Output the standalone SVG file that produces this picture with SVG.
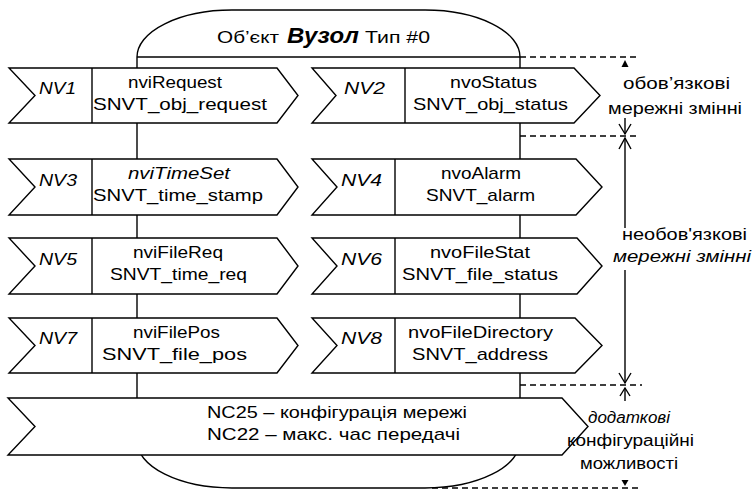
<svg xmlns="http://www.w3.org/2000/svg" width="752" height="490" viewBox="0 0 752 490">
<style>
.s{fill:#fff;stroke:#000;stroke-width:1.4;stroke-linejoin:miter}
.l{fill:none;stroke:#000;stroke-width:1.4}
.d{fill:none;stroke:#000;stroke-width:1.4;stroke-dasharray:6 4}
.f{fill:#000;stroke:none}
text{font-family:"Liberation Sans",Arial,sans-serif;font-size:17px;fill:#000}
.nv{font-style:italic;font-size:16px}
.i{font-style:italic}
.a{font-size:16px}
</style>
<rect width="752" height="490" fill="#fff"/>
<g id="node-object">
<rect class="s" x="137" y="10" width="383" height="478" rx="95" ry="47"/>
<line class="l" x1="137" y1="57" x2="520" y2="57"/>
<text x="217" y="43" font-size="16" textLength="62" lengthAdjust="spacingAndGlyphs">Об’єкт</text>
<text x="287" y="43" style="font-size:22px;font-weight:bold;font-style:italic" textLength="72" lengthAdjust="spacingAndGlyphs">Вузол</text>
<text x="365" y="43" font-size="16" textLength="65" lengthAdjust="spacingAndGlyphs">Тип #0</text>
</g>
<g id="nv1">
<polygon class="s" points="9,68 277,68 298,95.5 277,123 9,123 35,95.5"/>
<line class="l" x1="92" y1="68" x2="92" y2="123"/>
<text class="nv" x="39" y="94" textLength="37" lengthAdjust="spacingAndGlyphs">NV1</text>
<text x="128" y="87.5" textLength="94" lengthAdjust="spacingAndGlyphs">nviRequest</text>
<text x="93" y="110" textLength="174" lengthAdjust="spacingAndGlyphs">SNVT_obj_request</text>
</g>
<g id="nv2">
<polygon class="s" points="312,68 574,68 600,95.5 574,123 312,123 336,95.5"/>
<line class="l" x1="405" y1="68" x2="405" y2="123"/>
<text class="nv" x="344" y="94" textLength="41" lengthAdjust="spacingAndGlyphs">NV2</text>
<text x="450" y="87.5" textLength="87" lengthAdjust="spacingAndGlyphs">nvoStatus</text>
<text x="413" y="110" textLength="155" lengthAdjust="spacingAndGlyphs">SNVT_obj_status</text>
</g>
<g id="nv3">
<polygon class="s" points="9,159 277,159 298,187 277,215 9,215 35,187"/>
<line class="l" x1="92" y1="159" x2="92" y2="215"/>
<text class="nv" x="39" y="186" textLength="38" lengthAdjust="spacingAndGlyphs">NV3</text>
<text class="i" x="128" y="179" textLength="102" lengthAdjust="spacingAndGlyphs">nviTimeSet</text>
<text x="93" y="201" textLength="170" lengthAdjust="spacingAndGlyphs">SNVT_time_stamp</text>
</g>
<g id="nv4">
<polygon class="s" points="312,159 576,159 602,187 576,215 312,215 337,187"/>
<line class="l" x1="395" y1="159" x2="395" y2="215"/>
<text class="nv" x="341" y="186" textLength="41" lengthAdjust="spacingAndGlyphs">NV4</text>
<text x="441" y="179" textLength="80" lengthAdjust="spacingAndGlyphs">nvoAlarm</text>
<text x="426" y="201" textLength="109" lengthAdjust="spacingAndGlyphs">SNVT_alarm</text>
</g>
<g id="nv5">
<polygon class="s" points="9,238 277,238 298,266 277,294 9,294 35,266"/>
<line class="l" x1="92" y1="238" x2="92" y2="294"/>
<text class="nv" x="39" y="265" textLength="38" lengthAdjust="spacingAndGlyphs">NV5</text>
<text x="133" y="258" textLength="90" lengthAdjust="spacingAndGlyphs">nviFileReq</text>
<text x="110" y="280" textLength="137" lengthAdjust="spacingAndGlyphs">SNVT_time_req</text>
</g>
<g id="nv6">
<polygon class="s" points="312,238 577,238 602,266 577,294 312,294 337,266"/>
<line class="l" x1="395" y1="238" x2="395" y2="294"/>
<text class="nv" x="341" y="265" textLength="41" lengthAdjust="spacingAndGlyphs">NV6</text>
<text x="430" y="258" textLength="100" lengthAdjust="spacingAndGlyphs">nvoFileStat</text>
<text x="402" y="280" textLength="156" lengthAdjust="spacingAndGlyphs">SNVT_file_status</text>
</g>
<g id="nv7">
<polygon class="s" points="9,318 277,318 298,345.5 277,373 9,373 35,345.5"/>
<line class="l" x1="92" y1="318" x2="92" y2="373"/>
<text class="nv" x="39" y="344" textLength="38" lengthAdjust="spacingAndGlyphs">NV7</text>
<text x="133" y="337.5" textLength="87" lengthAdjust="spacingAndGlyphs">nviFilePos</text>
<text x="102" y="360" textLength="145" lengthAdjust="spacingAndGlyphs">SNVT_file_pos</text>
</g>
<g id="nv8">
<polygon class="s" points="312,318 575,318 602,345.5 575,373 312,373 337,345.5"/>
<line class="l" x1="395" y1="318" x2="395" y2="373"/>
<text class="nv" x="341" y="344" textLength="41" lengthAdjust="spacingAndGlyphs">NV8</text>
<text x="408" y="337.5" textLength="145" lengthAdjust="spacingAndGlyphs">nvoFileDirectory</text>
<text x="412" y="360" textLength="136" lengthAdjust="spacingAndGlyphs">SNVT_address</text>
</g>
<g id="nc">
<polygon class="s" points="8,398 562,398 588,426.5 562,455 8,455 35,426.5"/>
<text x="207" y="418" textLength="260" lengthAdjust="spacingAndGlyphs">NC25 – конфігурація мережі</text>
<text x="207" y="440" textLength="253" lengthAdjust="spacingAndGlyphs">NC22 – макс. час передачі</text>
</g>
<g id="connectors">
<line class="d" x1="520" y1="57" x2="640" y2="57"/>
<line class="d" x1="520" y1="136" x2="640" y2="136"/>
<line class="d" x1="520" y1="385" x2="642" y2="385"/>
<line class="d" x1="432" y1="488" x2="640" y2="488"/>
<path class="f" d="M625,60 L621.5,67 L628.5,67 Z"/>
<line class="l" x1="625" y1="118" x2="625" y2="134"/>
<path class="l" d="M619,124 L625,134 L631,124"/>
<line class="l" x1="625" y1="138" x2="625" y2="228"/>
<path class="l" d="M619,149 L625,138 L631,149"/>
<line class="l" x1="625" y1="270" x2="625" y2="383"/>
<path class="l" d="M619,373 L625,383 L631,373"/>
<line class="l" x1="625" y1="388" x2="625" y2="401"/>
<path class="l" d="M620,396 L625,388 L630,396"/>
<path class="f" d="M621.5,480 L628.5,480 L625,486 Z"/>
</g>
<g id="labels">
<text class="a" x="623" y="89" textLength="107" lengthAdjust="spacingAndGlyphs">обов’язкові</text>
<text class="a" x="608" y="114" textLength="134" lengthAdjust="spacingAndGlyphs">мережні змінні</text>
<text class="a" x="622" y="240" textLength="125" lengthAdjust="spacingAndGlyphs">необов'язкові</text>
<text class="a i" x="613" y="262" textLength="138" lengthAdjust="spacingAndGlyphs">мережні змінні</text>
<text class="a i" x="588" y="423" textLength="82" lengthAdjust="spacingAndGlyphs">додаткові</text>
<text class="a" x="567" y="446" textLength="127" lengthAdjust="spacingAndGlyphs">конфігураційні</text>
<text class="a" x="580" y="469" textLength="98" lengthAdjust="spacingAndGlyphs">можливості</text>
</g>
</svg>
